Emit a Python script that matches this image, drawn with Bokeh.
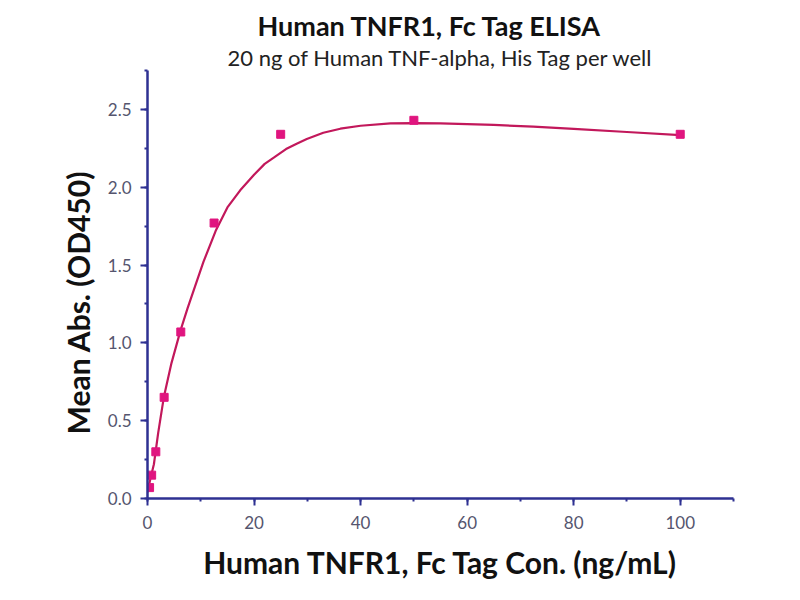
from bokeh.plotting import figure
from bokeh.models import (Range1d, SingleIntervalTicker, PrintfTickFormatter, Title)
from bokeh.embed import file_html
from bokeh.resources import INLINE

# ---- data ----
conc = [100, 50, 25, 12.5, 6.25, 3.125, 1.5625, 0.78, 0.39]
od450 = [2.34, 2.43, 2.34, 1.77, 1.07, 0.65, 0.30, 0.15, 0.07]

fit_x = [0, 0.5, 1.2, 2.0, 3.06, 4.5, 6.2, 7.5, 8.7, 10.5, 12.8, 15, 17.4, 20,
         22, 23.7, 26, 28, 29.9, 33, 36.2, 40, 45.6, 50, 55, 60, 65, 72.4, 80,
         90, 100]
fit_y = [0.04, 0.12, 0.22, 0.42, 0.65, 0.87, 1.08, 1.22, 1.34, 1.52, 1.72, 1.87,
         1.98, 2.08, 2.15, 2.19, 2.245, 2.28, 2.31, 2.35, 2.376, 2.395, 2.41,
         2.412, 2.41, 2.405, 2.40, 2.39, 2.375, 2.355, 2.335]

title_text = "Human TNFR1, Fc Tag ELISA"
subtitle_text = "20 ng of Human TNF-alpha, His Tag per well"
x_label = "Human TNFR1, Fc Tag Con. (ng/mL)"
y_label = "Mean Abs. (OD450)"

FONT = "Lato"
AXIS_COLOR = "#2e3192"
TICK_LABEL_COLOR = "#55556e"
MARKER_COLOR = "#e0157f"
LINE_COLOR = "#c2185b"

p = figure(width=784, height=584, output_backend="svg", toolbar_location=None,
           title_location=None,
           x_range=Range1d(0, 110), y_range=Range1d(0, 2.75),
           min_border_left=147, min_border_right=51, min_border_top=70,
           min_border_bottom=86)
p.outline_line_color = None
p.xgrid.visible = False
p.ygrid.visible = False
p.background_fill_color = "white"
p.border_fill_color = "white"

p.line(fit_x, fit_y, line_color=LINE_COLOR, line_width=2.2)
p.scatter(conc, od450, marker="square", size=8, fill_color=MARKER_COLOR,
          line_color=MARKER_COLOR)

p.xaxis.ticker = SingleIntervalTicker(interval=20, num_minor_ticks=2)
p.yaxis.ticker = SingleIntervalTicker(interval=0.5, num_minor_ticks=2)
p.yaxis.formatter = PrintfTickFormatter(format="%.1f")

for ax in (p.xaxis[0], p.yaxis[0]):
    ax.axis_line_color = AXIS_COLOR
    ax.axis_line_width = 2.5
    ax.major_tick_line_color = AXIS_COLOR
    ax.major_tick_line_width = 2
    ax.minor_tick_line_color = AXIS_COLOR
    ax.minor_tick_line_width = 2
    ax.major_tick_out = 7
    ax.major_tick_in = 0
    ax.minor_tick_out = 3
    ax.minor_tick_in = 0
    ax.major_label_text_font = FONT
    ax.major_label_text_font_size = "17px"
    ax.major_label_text_color = TICK_LABEL_COLOR
p.xaxis.major_label_standoff = 10
p.yaxis.major_label_standoff = 9

p.xaxis.axis_label = x_label
p.xaxis.axis_label_text_font = FONT
p.xaxis.axis_label_text_font_size = "30px"
p.xaxis.axis_label_text_font_style = "bold"
p.xaxis.axis_label_text_color = "#111111"
p.xaxis.axis_label_standoff = 12

p.add_layout(Title(text=y_label, text_font=FONT, text_font_size="30px",
                   text_font_style="bold", text_color="#111111", align="left",
                   offset=64, standoff=18), "left")

p.add_layout(Title(text=subtitle_text, text_font=FONT, text_font_size="22px",
                   text_font_style="normal", text_color="#222222", align="left",
                   offset=80, standoff=0), "above")
p.add_layout(Title(text=title_text, text_font=FONT, text_font_size="27px",
                   text_font_style="bold", text_color="#111111", align="left",
                   offset=110, standoff=0), "above")

open("out.html", "w").write(file_html(p, INLINE))
